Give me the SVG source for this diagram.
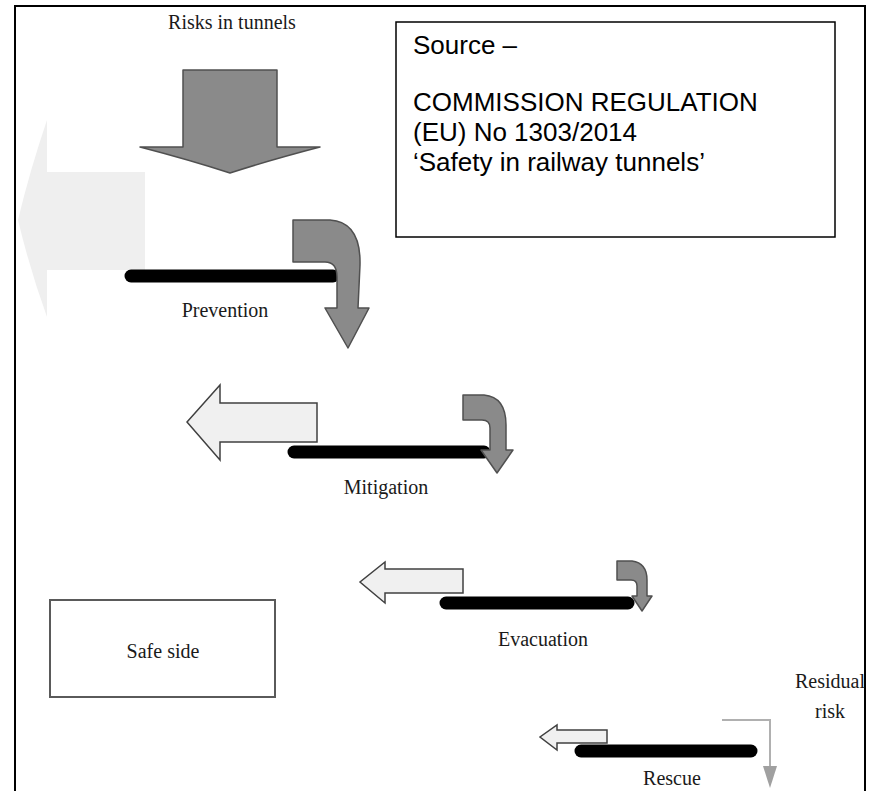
<svg xmlns="http://www.w3.org/2000/svg" width="875" height="791" viewBox="0 0 875 791">
<style>
.lbl{font-family:"Liberation Serif","Times New Roman",serif;font-size:20px;fill:#1a1a1a;text-anchor:middle}
.src{font-family:"Liberation Sans",Arial,sans-serif;font-size:26px;fill:#000}
.bar{stroke:#000;stroke-width:13;stroke-linecap:round;fill:none}
.dark{fill:#8a8a8a;stroke:#505050;stroke-width:1.5;stroke-linejoin:round}
.light{fill:#f0f0f0;stroke:#404040;stroke-width:1.5;stroke-linejoin:miter}
</style>
<rect width="875" height="791" fill="#fff"/>
<rect x="15" y="6" width="850" height="800" fill="none" stroke="#000" stroke-width="2"/>

<g id="source-box">
<rect x="396" y="22" width="439" height="215" fill="#fff" stroke="#000" stroke-width="1.5"/>
<text class="src" x="413" y="54">Source –</text>
<text class="src" x="413" y="111">COMMISSION REGULATION</text>
<text class="src" x="413" y="141">(EU) No 1303/2014</text>
<text class="src" x="413" y="171">‘Safety in railway tunnels’</text>
</g>

<g id="risks">
<text class="lbl" x="232" y="29">Risks in tunnels</text>
<path class="dark" d="M183,70 L277,70 L277,147 L320,147 Q270,160 230,173 Q190,160 140,147 L183,147 Z"/>
</g>

<g id="faint-arrow">
<path d="M145,172 L145,270 L47,270 L47,317 Q30,270 18,220 Q30,170 47,120 L47,172 Z" fill="#efefef"/>
</g>

<g id="prevention">
<line class="bar" x1="131" y1="276" x2="333" y2="276"/>
<path class="dark" d="M293,220 L330,220 Q361,222 360,265 L358,308 L369,308 L348,348 L325,308 L337,308 L337,277 Q337,262 325,262 L293,262 Z"/>
<text class="lbl" x="225" y="317">Prevention</text>
</g>

<g id="mitigation">
<path class="light" d="M317,403 L317,442 L220,442 L220,460 L187,422 L220,385 L220,403 Z"/>
<line class="bar" x1="294" y1="452" x2="484" y2="452"/>
<path class="dark" d="M463,395 L484,395 Q506,397 506,425 L506,450 L513,450 L497,473 L481,450 L490,450 L490,428 Q490,420 482,420 L463,420 Z"/>
<text class="lbl" x="386" y="494">Mitigation</text>
</g>

<g id="evacuation">
<path class="light" d="M463,569 L463,593 L385,593 L385,603 L360,582 L385,562 L385,569 Z"/>
<line class="bar" x1="446" y1="603" x2="628" y2="603"/>
<path class="dark" d="M617,561 L632,561 Q647,563 647,580 L647,596 L652,596 L642,611 L632,596 L637,596 L637,586 Q637,580 631,580 L617,580 Z"/>
<text class="lbl" x="543" y="646">Evacuation</text>
</g>

<g id="safe-side">
<rect x="50" y="600" width="225" height="97" fill="#fff" stroke="#5a5a5a" stroke-width="2"/>
<text class="lbl" x="163" y="658">Safe side</text>
</g>

<g id="rescue">
<text class="lbl" x="830" y="688">Residual</text>
<text class="lbl" x="830" y="718">risk</text>
<path class="light" d="M607,730 L607,743 L557,743 L557,750 L540,737 L557,725 L557,730 Z"/>
<line class="bar" x1="581" y1="751" x2="751" y2="751"/>
<g id="connectors">
<path d="M722,720 L770,720 L770,770" fill="none" stroke="#b0b0b0" stroke-width="2"/>
<path d="M763,766 L777,766 L770,788 Z" fill="#a0a0a0"/>
</g>
<text class="lbl" x="672" y="785">Rescue</text>
</g>
</svg>
